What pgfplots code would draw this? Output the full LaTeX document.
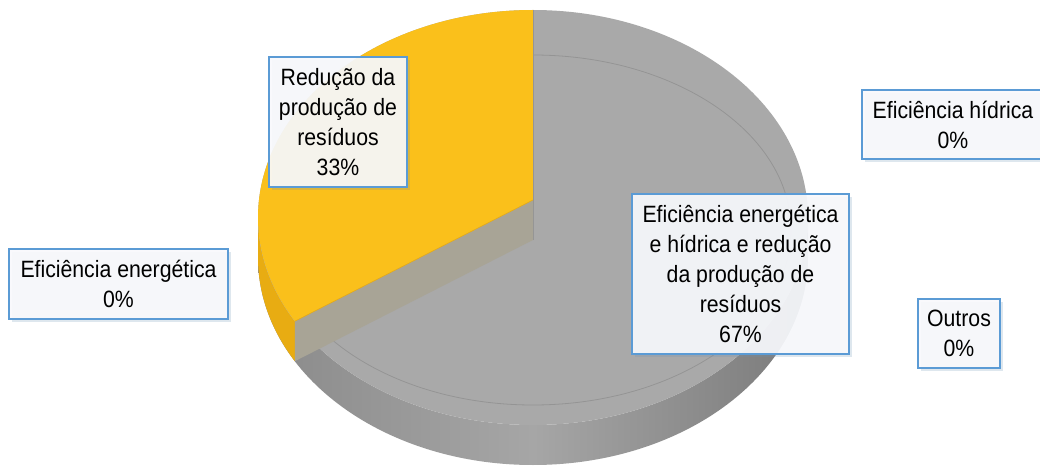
\documentclass[border=0pt]{standalone}
\usepackage{pgfplots}
\pgfplotsset{compat=1.18}
\usepackage{pgfplotstable}
\usepackage{fontspec}
\setmainfont[FakeStretch=0.9]{Liberation Sans}
\usetikzlibrary{shadows}
\definecolor{YelTop}{RGB}{250,192,27}
\definecolor{YelSide}{RGB}{232,172,18}
\definecolor{GrayTop}{RGB}{169,169,169}
\definecolor{GrayL}{RGB}{138,138,138}
\definecolor{GrayM}{RGB}{166,166,166}
\definecolor{GrayR}{RGB}{122,122,122}
\definecolor{Beige}{RGB}{168,164,150}
\definecolor{BoxLine}{RGB}{91,155,213}
\definecolor{BoxFill}{RGB}{248,249,252}

\pgfplotstableread[col sep=semicolon]{
label;value
Eficiência energética;0
Eficiência hídrica;0
Eficiência energética e hídrica e redução da produção de resíduos;66.667
Redução da produção de resíduos;33.333
Outros;0
}\piedata

\begin{document}
\begin{tikzpicture}
\pgfplotstablegetelem{3}{value}\of\piedata
\pgfmathsetmacro{\yend}{90+3.6*\pgfplotsretval}
\pgfmathsetmacro{\ex}{533+275*cos(\yend)}
\pgfmathsetmacro{\ey}{249.5+207.5*sin(\yend)}
\pgfmathsetmacro{\eyb}{\ey-40}
\tikzset{
  lbl/.style={draw=BoxLine, line width=1pt, fill=BoxFill, fill opacity=0.92, text opacity=1,
    align=center, font=\fontsize{11.8}{15}\selectfont, inner sep=2pt,
    drop shadow={shadow xshift=1.5pt, shadow yshift=-1.5pt, opacity=0.22, fill=BoxLine!60!gray}},
  rad/.style={x radius=137.5pt, y radius=103.75pt}
}
\begin{axis}[
  width=520pt, height=233.5pt, scale only axis,
  xmin=0, xmax=1040, ymin=0, ymax=467,
  hide axis, clip=false,
]
% side wall (gray, front half)
\shade[left color=GrayL, right color=GrayR, middle color=GrayM]
  (axis cs:258,249.5) arc[start angle=180, end angle=360, rad]
  -- ++(0,-20pt) arc[start angle=360, end angle=180, rad] -- cycle;
% side wall (yellow part)
\fill[YelSide]
  (axis cs:258,249.5) arc[start angle=180, end angle=\yend, rad]
  -- ++(0,-20pt) arc[start angle=\yend, end angle=180, rad] -- cycle;
% top face gray
\fill[GrayTop] (axis cs:533,249.5) ellipse[rad];
% faint bevel line
\draw[black, opacity=0.12, line width=0.4pt] (axis cs:533,237) ellipse[x radius=129pt, y radius=87.5pt];
% yellow wedge
\fill[YelTop] (axis cs:533,267) -- (axis cs:533,457)
  arc[start angle=90, end angle=\yend, rad] -- cycle;
% cut face
\fill[Beige] (axis cs:533,267) -- (axis cs:\ex,\ey) -- (axis cs:\ex,\eyb) -- (axis cs:533,227) -- cycle;
\draw[GrayR!80, line width=0.5pt] (axis cs:533,457) -- (axis cs:533,227);
\draw[YelSide, line width=0.3pt] (axis cs:533,267) -- (axis cs:\ex,\ey);

% labels
\node[lbl, minimum width=69pt, minimum height=65pt] at (axis cs:338,345)
  {Redução da\\produção de\\resíduos\\33\%};
\node[lbl, minimum width=108.5pt, minimum height=80pt] at (axis cs:740.5,193)
  {Eficiência energética\\e hídrica e redução\\da produção de\\resíduos\\67\%};
\node[lbl, minimum width=41pt, minimum height=34.5pt] at (axis cs:959,133.5)
  {Outros\\0\%};
\node[lbl, minimum width=91pt, minimum height=34.5pt] at (axis cs:953,342.5)
  {Eficiência hídrica\\0\%};
\node[lbl, minimum width=109.5pt, minimum height=35pt] at (axis cs:118.5,183)
  {Eficiência energética\\0\%};
\end{axis}
\pgfresetboundingbox
\useasboundingbox (0,0) rectangle (520pt,233.5pt);
\end{tikzpicture}
\end{document}
